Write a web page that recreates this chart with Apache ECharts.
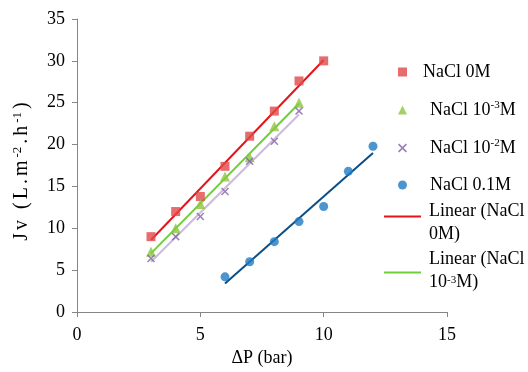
<!DOCTYPE html>
<html>
<head>
<meta charset="utf-8">
<script src="https://cdn.jsdelivr.net/npm/echarts@6/dist/echarts.min.js"></script>
<style>html,body{margin:0;padding:0;background:#fff;}#c{width:528px;height:372px;}</style>
</head>
<body>
<div id="c"></div>
<script>
// ---- data ----
const x0M = [3, 4, 5, 6, 7, 8, 9, 10];
const y0M = [9, 12, 13.8, 17.4, 21, 24, 27.6, 30];
const x1e3 = [3, 4, 5, 6, 7, 8, 9];
const y1e3 = [7.2, 10, 12.9, 16.2, 18.5, 22.2, 25];
const x1e2 = [3, 4, 5, 6, 7, 8, 9];
const y1e2 = [6.4, 9, 11.4, 14.4, 18, 20.4, 24];
const x01 = [6, 7, 8, 9, 10, 11, 12];
const y01 = [4.2, 6, 8.4, 10.8, 12.6, 16.8, 19.8];
// trend line end points
const trend0M = [[3, 8.6], [10, 30.1]];
const trend1e3 = [[3, 7.0], [9, 24.9]];
const trend1e2 = [[3, 6.0], [9, 23.6]];
const trend01 = [[6, 3.4], [12, 19.0]];
const xTicks = [0, 5, 10, 15];
const yTicks = [0, 5, 10, 15, 20, 25, 30, 35];

const pairs = (xs, ys) => xs.map((x, i) => [x, ys[i]]);
const FONT = '"Liberation Serif", "Times New Roman", serif';
const xPath = 'path://M0,1.3L1.3,0L5,3.7L8.7,0L10,1.3L6.3,5L10,8.7L8.7,10L5,6.3L1.3,10L0,8.7L3.7,5Z';
const supRich = {
  a: {fontFamily: FONT, fontSize: 18, color: '#000'},
  s: {fontFamily: FONT, fontSize: 11, color: '#000', verticalAlign: 'bottom', padding: [0, 0, 8, 0]}
};
const names = {
  n0: 'NaCl 0M', n3: 'NaCl 10-3M', n2: 'NaCl 10-2M', n1: 'NaCl 0.1M',
  l0: 'Linear (NaCl 0M)', l3: 'Linear (NaCl 10-3M)', l2: 'Linear (NaCl 10-2M)', l1: 'Linear (NaCl 0.1M)'
};
const legendLabel = {};
legendLabel[names.n0] = '{p|NaCl 0M}';
legendLabel[names.n3] = '{b|NaCl 10}{s|-3}{a|M}';
legendLabel[names.n2] = '{b|NaCl 10}{s|-2}{a|M}';
legendLabel[names.n1] = '{b|NaCl 0.1M}';
legendLabel[names.l0] = '{a|Linear (NaCl}\n{a|0M)}';
legendLabel[names.l3] = '{a|Linear (NaCl}\n{a|10}{s|-3}{a|M)}';

// y-axis title, slightly letter-spaced like the reference
const yNameParts = [['J', 'c'], ['v', 'c'], [' ', 'c'], ['(', 'c'], ['L', 'c'], ['.', 'c'], ['m', 'c'], ['-2', 'u'], ['.', 'c'], ['h', 'c'], ['-1', 'u'], [')', 'c']];
const yName = yNameParts.map(p => '{' + p[1] + '|' + p[0] + '}').join('');
const yRich = {
  c: {fontFamily: FONT, fontSize: 20, color: '#000', padding: [0, 1.5, 0, 1.5]},
  u: {fontFamily: FONT, fontSize: 13, color: '#000', verticalAlign: 'bottom', padding: [0, 1.5, 9, 1.5]}
};

const chart = echarts.init(document.getElementById('c'), null, {renderer: 'canvas'});
const txt = {fontFamily: FONT, fontSize: 18, color: '#000'};
const axisCommon = {
  axisLine: {show: true, lineStyle: {color: '#868686', width: 1}},
  axisTick: {show: true, inside: false, length: 5, lineStyle: {color: '#868686'}},
  splitLine: {show: false}
};
chart.setOption({
  animation: false,
  backgroundColor: '#fff',
  textStyle: {fontFamily: FONT},
  grid: {left: 77, top: 19, width: 370, height: 293, containLabel: false},
  xAxis: Object.assign({}, axisCommon, {
    type: 'value', min: xTicks[0], max: xTicks[xTicks.length - 1], interval: 5,
    name: 'ΔP (bar)', nameLocation: 'middle', nameGap: 32,
    nameTextStyle: txt,
    axisLabel: Object.assign({margin: 14}, txt)
  }),
  yAxis: Object.assign({}, axisCommon, {
    type: 'value', min: yTicks[0], max: yTicks[yTicks.length - 1], interval: 5,
    name: yName, nameLocation: 'middle', nameGap: 44, nameRotate: 90,
    nameTextStyle: Object.assign({rich: yRich, padding: [0, 12, 0, 0]}, txt),
    axisLabel: Object.assign({margin: 12}, txt)
  }),
  legend: [
    {
      orient: 'vertical', left: 393, top: 58, itemWidth: 9, itemHeight: 9, itemGap: 19,
      selectedMode: false,
      data: [
        {name: names.n0, icon: 'rect'},
        {name: names.n3, icon: 'triangle'},
        {name: names.n2, icon: xPath},
        {name: names.n1, icon: 'circle'}
      ],
      formatter: n => legendLabel[n],
      textStyle: Object.assign({lineHeight: 18,
        rich: Object.assign({
          p: {fontFamily: FONT, fontSize: 18, color: '#000', padding: [0, 0, 0, 11]},
          b: {fontFamily: FONT, fontSize: 18, color: '#000', padding: [0, 0, 0, 18]}
        }, supRich)}, txt)
    },
    {
      orient: 'vertical', left: 379, top: 182, itemWidth: 37, itemHeight: 2,
      selectedMode: false,
      data: [{name: names.l0, icon: 'rect'}],
      formatter: n => legendLabel[n],
      textStyle: Object.assign({lineHeight: 23, padding: [13, 0, 0, 3], rich: supRich}, txt)
    },
    {
      orient: 'vertical', left: 379, top: 230, itemWidth: 37, itemHeight: 2,
      selectedMode: false,
      data: [{name: names.l3, icon: 'rect'}],
      formatter: n => legendLabel[n],
      textStyle: Object.assign({lineHeight: 23, padding: [13, 0, 16, 3], rich: supRich}, txt)
    }
  ],
  series: [
    {name: names.l0, type: 'line', data: trend0M, showSymbol: false, symbol: 'none', color: '#e5141b', lineStyle: {color: '#e5141b', width: 2}, z: 2},
    {name: names.l3, type: 'line', data: trend1e3, showSymbol: false, symbol: 'none', color: '#6fcf3a', lineStyle: {color: '#6fcf3a', width: 2}, z: 2},
    {name: names.l2, type: 'line', data: trend1e2, showSymbol: false, symbol: 'none', color: '#cdb9de', lineStyle: {color: '#cdb9de', width: 2}, z: 2},
    {name: names.l1, type: 'line', data: trend01, showSymbol: false, symbol: 'none', color: '#0b4d86', lineStyle: {color: '#0b4d86', width: 2}, z: 2},
    {name: names.n0, type: 'scatter', data: pairs(x0M, y0M), symbol: 'rect', symbolSize: 9, itemStyle: {color: '#e04848'}, z: 3},
    {name: names.n3, type: 'scatter', data: pairs(x1e3, y1e3), symbol: 'triangle', symbolSize: 10, itemStyle: {color: '#8cc63e'}, z: 3},
    {name: names.n2, type: 'scatter', data: pairs(x1e2, y1e2), symbol: xPath, symbolSize: 8, itemStyle: {color: '#8060a6'}, z: 3},
    {name: names.n1, type: 'scatter', data: pairs(x01, y01), symbol: 'circle', symbolSize: 9, itemStyle: {color: '#1f7bc2'}, z: 3}
  ]
});
</script>
</body>
</html>
